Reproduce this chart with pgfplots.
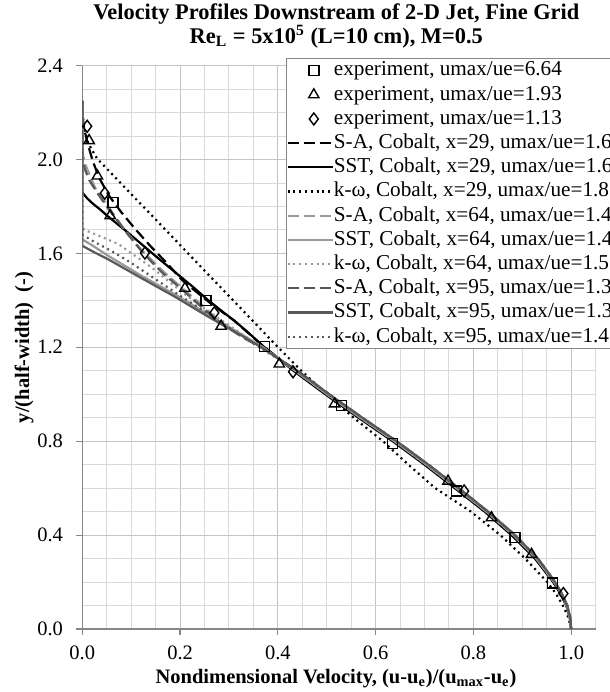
\documentclass[border=0pt]{standalone}
\usepackage{fontspec}
\setmainfont{Liberation Serif}
\usepackage{pgfplots}
\pgfplotsset{compat=1.18}
\definecolor{gA}{gray}{0.60}
\definecolor{gB}{gray}{0.35}
\definecolor{gridmaj}{HTML}{C4C4C4}
\definecolor{gridmin}{HTML}{D9D9D9}
\definecolor{axgray}{HTML}{868686}
\pgfplotsset{
  lineleg/.style={legend image code/.code={\path[draw=none] (0pt,0pt) -- (23.5pt,0pt); \draw[##1] (0.4pt,0pt) -- (23pt,0pt);}},
  markleg/.style={legend image code/.code={\path[draw=none] (0pt,0pt) -- (23.5pt,0pt); \draw[##1] plot coordinates {(13.5pt,0pt)};}},
  dsh/.style={dash pattern=on 5.5pt off 2.5pt},
  dtt/.style={dash pattern=on 1pt off 1.9pt},
}
\begin{document}
\fontsize{10.25}{12.3}\selectfont
\begin{tikzpicture}
\useasboundingbox (-41.15pt,-31.5pt) rectangle (263.85pt,314.5pt);
\begin{axis}[
  at={(0pt,0pt)}, anchor=south west,
  scale only axis, width=256.7pt, height=281.65pt,
  xmin=0, xmax=1.0501, ymin=0, ymax=2.4,
  axis x line*=bottom, axis y line*=left,
  axis line style={axgray, line width=0.6pt},
  xtick={0,0.2,0.4,0.6,0.8,1.0},
  ytick={0,0.4,0.8,1.2,1.6,2.0,2.4},
  minor xtick={0.05,0.1,0.15,0.25,0.3,0.35,0.45,0.5,0.55,0.65,0.7,0.75,0.85,0.9,0.95,1.05},
  minor ytick={0.1,0.2,0.3,0.5,0.6,0.7,0.9,1.0,1.1,1.3,1.4,1.5,1.7,1.8,1.9,2.1,2.2,2.3},
  grid=both,
  major grid style={gridmaj, line width=0.5pt},
  minor grid style={gridmin, line width=0.5pt},
  tick align=outside, major tick length=3pt, minor tick length=0pt,
  tick style={axgray, line width=0.6pt},
  /pgf/number format/assume math mode=true,
  xticklabel={\pgfmathprintnumber[fixed,fixed zerofill,precision=1]{\tick}},
  yticklabel={\pgfmathprintnumber[fixed,fixed zerofill,precision=1]{\tick}},
  xticklabel style={anchor=center, inner sep=0pt, yshift=-9.15pt},
  yticklabel style={anchor=east, inner sep=0pt, xshift=-6.5pt},
  xlabel={\bfseries Nondimensional Velocity, (u-u\textsubscript{e})/(u\textsubscript{max}-u\textsubscript{e})},
  xlabel style={at={(rel axis cs:0.4942,0)}, anchor=base, yshift=-27.2pt, inner sep=0pt},
  ylabel={\bfseries y/(half-width)\ \ (-)},
  ylabel style={at={(rel axis cs:0,0.5)}, anchor=center, rotate=0, yshift=29.15pt, inner sep=0pt},
  legend style={at={(rel axis cs:0.3968,1.0137)}, anchor=north west,
    draw=axgray, line width=0.5pt, fill=white, inner sep=0pt, row sep=0pt, column sep=0pt,
    font=\fontsize{10.6}{12}\selectfont,
    nodes={inner xsep=0pt, inner ysep=1.1pt, text height=7.6pt, text depth=2.3pt}},
  legend cell align=left,
]
% legend entries for experiments (markers drawn last)
\addlegendimage{only marks, mark=square, mark size=2.5pt, black, line width=0.7pt, markleg}
\addlegendentry{experiment, umax/ue=6.64}
\addlegendimage{only marks, mark=triangle, mark size=3pt, black, line width=0.7pt, markleg}
\addlegendentry{experiment, umax/ue=1.93}
\addlegendimage{only marks, mark=diamond, mark size=3pt, black, line width=0.7pt, markleg}
\addlegendentry{experiment, umax/ue=1.13}

% x=29 black
\addplot[black, line width=1.1pt, dsh, lineleg] coordinates {
(0,2.25)(0,2.19)(0.004,2.13)(0.012,2.06)(0.022,1.99)(0.035,1.92)(0.055,1.845)(0.08,1.775)(0.11,1.70)(0.14,1.63)(0.17,1.565)(0.205,1.485)(0.24,1.425)(0.27,1.375)(0.31,1.315)(0.37,1.205)(0.434,1.1)(0.499,1.0)(0.567,0.9)(0.637,0.8)(0.702,0.7)(0.764,0.6)(0.825,0.5)(0.880,0.4)(0.927,0.3)(0.964,0.2)(0.979,0.15)(0.990,0.1)(0.997,0.05)(1.0,0)};
\addlegendentry{S-A, Cobalt, x=29, umax/ue=1.6}
\addplot[black, line width=1.1pt, lineleg] coordinates {
(0,2.25)(0,1.86)(0.01,1.835)(0.02,1.815)(0.035,1.79)(0.053,1.757)(0.087,1.70)(0.121,1.64)(0.155,1.58)(0.19,1.52)(0.225,1.46)(0.258,1.40)(0.29,1.347)(0.312,1.312)(0.34,1.262)(0.37,1.205)(0.432,1.1)(0.497,1.0)(0.565,0.9)(0.635,0.8)(0.700,0.7)(0.762,0.6)(0.823,0.5)(0.878,0.4)(0.926,0.3)(0.963,0.2)(0.978,0.15)(0.990,0.1)(0.997,0.05)(1.0,0)};
\addlegendentry{SST, Cobalt, x=29, umax/ue=1.6}
\addplot[black, line width=1.1pt, dtt, lineleg] coordinates {
(0,2.25)(0,2.20)(0.004,2.14)(0.012,2.07)(0.03,2.005)(0.06,1.94)(0.1,1.853)(0.15,1.745)(0.2,1.636)(0.25,1.527)(0.3,1.419)(0.35,1.31)(0.395,1.212)(0.448,1.1)(0.500,1.0)(0.555,0.9)(0.615,0.8)(0.667,0.7)(0.722,0.6)(0.795,0.5)(0.855,0.4)(0.906,0.3)(0.951,0.2)(0.969,0.15)(0.983,0.1)(0.994,0.05)(1.0,0)};
\addlegendentry{k-ω, Cobalt, x=29, umax/ue=1.8}

% x=64 light gray
\addplot[gA, line width=1.1pt, dsh, lineleg] coordinates {
(0,2.25)(0,2.03)(0.006,1.98)(0.012,1.95)(0.026,1.88)(0.053,1.80)(0.087,1.70)(0.121,1.615)(0.162,1.53)(0.203,1.455)(0.245,1.38)(0.284,1.305)(0.33,1.245)(0.37,1.198)(0.436,1.1)(0.501,1.0)(0.569,0.9)(0.639,0.8)(0.704,0.7)(0.766,0.6)(0.827,0.5)(0.882,0.4)(0.929,0.3)(0.965,0.2)(0.980,0.15)(0.991,0.1)(0.997,0.05)(1.0,0)};
\addlegendentry{S-A, Cobalt, x=64, umax/ue=1.4}
\addplot[gA, line width=1.1pt, lineleg] coordinates {
(0,2.25)(0,1.66)(0.02,1.635)(0.053,1.59)(0.121,1.505)(0.19,1.425)(0.258,1.34)(0.326,1.255)(0.37,1.20)(0.436,1.1)(0.501,1.0)(0.569,0.9)(0.639,0.8)(0.704,0.7)(0.766,0.6)(0.827,0.5)(0.882,0.4)(0.929,0.3)(0.965,0.2)(0.980,0.15)(0.991,0.1)(0.997,0.05)(1.0,0)};
\addlegendentry{SST, Cobalt, x=64, umax/ue=1.4}
\addplot[gA, line width=1.1pt, dtt, lineleg] coordinates {
(0,2.25)(0,1.71)(0.005,1.70)(0.04,1.67)(0.074,1.64)(0.101,1.60)(0.142,1.54)(0.176,1.483)(0.21,1.426)(0.26,1.35)(0.31,1.28)(0.37,1.195)(0.436,1.1)(0.501,1.0)(0.569,0.9)(0.639,0.8)(0.704,0.7)(0.766,0.6)(0.827,0.5)(0.882,0.4)(0.929,0.3)(0.965,0.2)(0.980,0.15)(0.991,0.1)(0.997,0.05)(1.0,0)};
\addlegendentry{k-ω, Cobalt, x=64, umax/ue=1.5}

% x=95 dark gray
\addplot[gB, line width=1.1pt, dsh, lineleg] coordinates {
(0,2.25)(0,2.00)(0.006,1.955)(0.015,1.91)(0.03,1.86)(0.055,1.785)(0.09,1.69)(0.125,1.60)(0.165,1.515)(0.205,1.445)(0.245,1.37)(0.285,1.30)(0.33,1.24)(0.37,1.195)(0.440,1.1)(0.505,1.0)(0.573,0.9)(0.643,0.8)(0.708,0.7)(0.770,0.6)(0.830,0.5)(0.885,0.4)(0.932,0.3)(0.967,0.2)(0.981,0.15)(0.992,0.1)(0.998,0.05)(1.0,0)};
\addlegendentry{S-A, Cobalt, x=95, umax/ue=1.3}
\addplot[gB, line width=1.1pt, lineleg] coordinates {
(0,2.25)(0,1.633)(0.02,1.61)(0.053,1.575)(0.121,1.495)(0.19,1.415)(0.258,1.33)(0.326,1.25)(0.37,1.195)(0.440,1.1)(0.505,1.0)(0.573,0.9)(0.643,0.8)(0.708,0.7)(0.770,0.6)(0.830,0.5)(0.885,0.4)(0.932,0.3)(0.967,0.2)(0.981,0.15)(0.992,0.1)(0.998,0.05)(1.0,0)};
\addlegendentry{SST, Cobalt, x=95, umax/ue=1.3}
\addplot[gB, line width=1.1pt, dtt, lineleg] coordinates {
(0,2.25)(0,1.68)(0.02,1.655)(0.06,1.61)(0.1,1.56)(0.15,1.49)(0.2,1.42)(0.26,1.34)(0.31,1.27)(0.37,1.19)(0.440,1.1)(0.505,1.0)(0.573,0.9)(0.643,0.8)(0.708,0.7)(0.770,0.6)(0.830,0.5)(0.885,0.4)(0.932,0.3)(0.967,0.2)(0.981,0.15)(0.992,0.1)(0.998,0.05)(1.0,0)};
\addlegendentry{k-ω, Cobalt, x=95, umax/ue=1.4}

% experiments
\addplot[forget plot, only marks, mark=square, mark size=2.5pt, black, line width=0.7pt] coordinates {
(0.063,1.817)(0.253,1.40)(0.373,1.203)(0.530,0.952)(0.634,0.790)(0.766,0.588)(0.885,0.389)(0.962,0.196)};
\addplot[forget plot, only marks, mark=triangle, mark size=3pt, black, line width=0.7pt] coordinates {
(0.014,2.081)(0.031,1.930)(0.057,1.761)(0.210,1.452)(0.284,1.290)(0.403,1.129)(0.516,0.959)(0.748,0.630)(0.837,0.474)(0.919,0.318)};
\addplot[forget plot, only marks, mark=diamond, mark size=3pt, black, line width=0.7pt] coordinates {
(0.010,2.142)(0.046,1.857)(0.128,1.602)(0.270,1.347)(0.431,1.096)(0.781,0.588)(0.984,0.151)};
\end{axis}
\node[anchor=base, inner sep=0pt] at (127pt,304.5pt) {\fontsize{11.2}{13}\selectfont\bfseries Velocity Profiles Downstream of 2-D Jet, Fine Grid};
\node[anchor=base, inner sep=0pt] at (127pt,292.85pt) {\fontsize{11.2}{13}\selectfont\bfseries Re\textsubscript{L} = 5x10\textsuperscript{5} (L=10 cm), M=0.5};
\end{tikzpicture}
\end{document}
